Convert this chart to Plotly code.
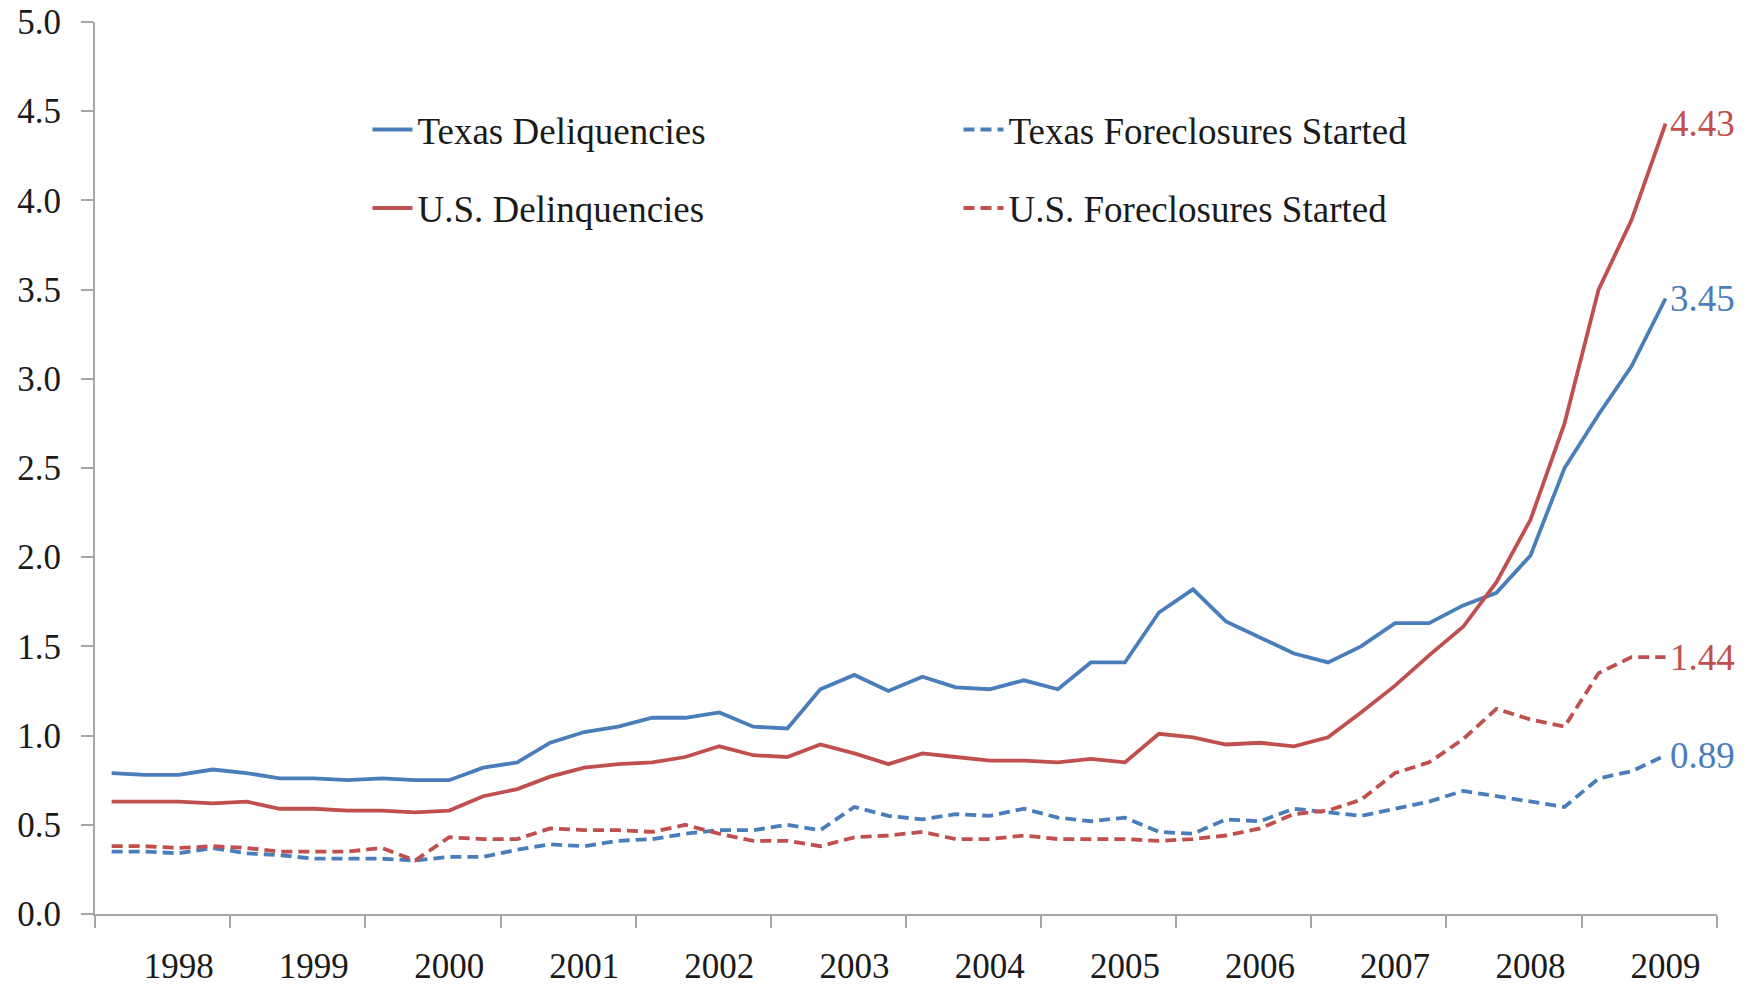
import plotly.graph_objects as go
import pandas as pd

years = list(range(1998, 2010))
quarters = [1, 2, 3, 4]
n_points = 47  # 1998Q1 .. 2009Q3

texas_delinq = [0.79, 0.78, 0.78, 0.81, 0.79, 0.76, 0.76, 0.75, 0.76, 0.75, 0.75, 0.82,
                0.85, 0.96, 1.02, 1.05, 1.10, 1.10, 1.13, 1.05, 1.04, 1.26, 1.34, 1.25,
                1.33, 1.27, 1.26, 1.31, 1.26, 1.41, 1.41, 1.69, 1.82, 1.64, 1.55, 1.46,
                1.41, 1.50, 1.63, 1.63, 1.73, 1.80, 2.01, 2.50, 2.80, 3.07, 3.45]
texas_fc = [0.35, 0.35, 0.34, 0.37, 0.34, 0.33, 0.31, 0.31, 0.31, 0.30, 0.32, 0.32,
            0.36, 0.39, 0.38, 0.41, 0.42, 0.45, 0.47, 0.47, 0.50, 0.47, 0.60, 0.55,
            0.53, 0.56, 0.55, 0.59, 0.54, 0.52, 0.54, 0.46, 0.45, 0.53, 0.52, 0.59,
            0.57, 0.55, 0.59, 0.63, 0.69, 0.66, 0.63, 0.60, 0.76, 0.80, 0.89]
us_delinq = [0.63, 0.63, 0.63, 0.62, 0.63, 0.59, 0.59, 0.58, 0.58, 0.57, 0.58, 0.66,
             0.70, 0.77, 0.82, 0.84, 0.85, 0.88, 0.94, 0.89, 0.88, 0.95, 0.90, 0.84,
             0.90, 0.88, 0.86, 0.86, 0.85, 0.87, 0.85, 1.01, 0.99, 0.95, 0.96, 0.94,
             0.99, 1.13, 1.28, 1.45, 1.61, 1.86, 2.21, 2.75, 3.50, 3.89, 4.43]
us_fc = [0.38, 0.38, 0.37, 0.38, 0.37, 0.35, 0.35, 0.35, 0.37, 0.30, 0.43, 0.42,
         0.42, 0.48, 0.47, 0.47, 0.46, 0.50, 0.45, 0.41, 0.41, 0.38, 0.43, 0.44,
         0.46, 0.42, 0.42, 0.44, 0.42, 0.42, 0.42, 0.41, 0.42, 0.44, 0.48, 0.56,
         0.58, 0.64, 0.79, 0.85, 0.98, 1.15, 1.09, 1.05, 1.35, 1.44, 1.44]

dates = [pd.Timestamp(y, 3 * q - 1, 15) for y in years for q in quarters][:n_points]
# year labels sit under the third quarter of each year, as in the source chart
label_dates = [pd.Timestamp(y, 8, 15) for y in years]
label_text = [str(y) for y in years]

BLUE = "#4A7EBB"
RED = "#C0504D"
FONT = "Liberation Serif"
TXT = "#1a1a1a"
AXC = "#a6a6a6"

series = [
    ("Texas Deliquencies", texas_delinq, BLUE, "solid", "legend"),
    ("Texas Foreclosures Started", texas_fc, BLUE, "11px,6px", "legend"),
    ("U.S. Delinquencies", us_delinq, RED, "solid", "legend2"),
    ("U.S. Foreclosures Started", us_fc, RED, "11px,6px", "legend2"),
]

fig = go.Figure()
for name, vals, col, dash, leg in series:
    fig.add_trace(go.Scatter(
        x=dates, y=vals, mode="lines", name=name,
        line=dict(color=col, width=3.8, dash=dash),
        legend=leg,
    ))
    fig.add_annotation(
        x=dates[-1], y=vals[-1], text=f"{vals[-1]:.2f}", showarrow=False,
        xanchor="left", yanchor="middle", xshift=2,
        font=dict(family=FONT, size=37, color=col),
    )

legend_common = dict(
    orientation="h", xanchor="left", yanchor="middle",
    font=dict(family=FONT, size=37, color=TXT),
    bgcolor="rgba(0,0,0,0)", entrywidth=536, entrywidthmode="pixels",
    itemwidth=40,
)

fig.update_layout(
    width=1756, height=985,
    margin=dict(l=95, r=39, t=22, b=71, autoexpand=False),
    paper_bgcolor="white", plot_bgcolor="white",
    showlegend=True,
    legend=dict(x=0.168, y=0.879, **legend_common),
    legend2=dict(x=0.168, y=0.791, **legend_common),
    xaxis=dict(
        type="date", range=["1998-01-01", "2010-01-01"],
        tickmode="array", tickvals=label_dates, ticktext=label_text,
        ticks="", ticklen=12,
        minor=dict(ticks="outside", ticklen=12, tickcolor=AXC, tickwidth=2,
                   tick0="1998-01-01", dtick="M12", showgrid=False),
        showline=True, linecolor=AXC, linewidth=2,
        showgrid=False, zeroline=False, automargin=False,
        tickfont=dict(family=FONT, size=35, color=TXT),
        ticklabelstandoff=20, ticklabeloverflow="allow",
    ),
    yaxis=dict(
        range=[0, 5], dtick=0.5, tick0=0, tickformat=".1f",
        showline=True, linecolor=AXC, linewidth=2,
        ticks="outside", ticklen=12, tickcolor=AXC, tickwidth=2,
        showgrid=False, zeroline=False, automargin=False,
        tickfont=dict(family=FONT, size=35, color=TXT),
        ticklabelstandoff=13, ticklabeloverflow="allow",
    ),
)

fig.write_html("out.html", config={"displayModeBar": False},
               post_script="document.body.style.margin='0px';")
